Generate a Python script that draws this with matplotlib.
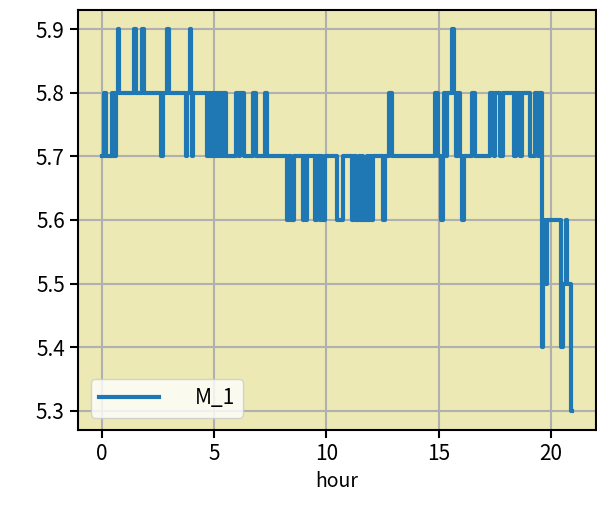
import matplotlib
matplotlib.use("Agg")
import matplotlib.pyplot as plt

plt.rcParams['font.family'] = ['Noto Sans CJK SC', 'DejaVu Sans']

# change points of the step series (hour, value)
hours = [0.00, 0.13, 0.20, 0.45, 0.50, 0.55, 0.62, 0.66, 0.72, 0.77,
         1.45, 1.52, 1.80, 1.87, 2.65, 2.72, 2.93, 3.00, 3.75, 3.82,
         3.92, 3.98, 4.02, 4.07, 4.70, 4.78, 4.83, 4.90, 4.95, 5.00,
         5.05, 5.10, 5.15, 5.20, 5.25, 5.32, 5.40, 5.45, 5.55, 6.00,
         6.10, 6.15, 6.35, 6.75, 6.88, 7.25, 7.38, 8.27, 8.33, 8.42,
         8.55, 8.95, 9.00, 9.08, 9.15, 9.50, 9.60, 9.70, 9.78, 9.82,
         9.95, 10.47, 10.72, 11.15, 11.22, 11.30, 11.45, 11.50, 11.60, 11.65,
         11.80, 11.85, 11.95, 12.00, 12.08, 12.50, 12.60, 12.80, 12.90, 14.82,
         14.97, 15.08, 15.18, 15.25, 15.32, 15.38, 15.60, 15.70, 15.78, 15.85,
         15.95, 16.05, 16.12, 16.50, 16.62, 17.28, 17.45, 17.50, 17.72, 17.88,
         18.35, 18.42, 18.62, 18.70, 19.05, 19.30, 19.40, 19.45, 19.58, 19.62,
         19.66, 19.70, 19.74, 19.82, 20.43, 20.52, 20.65, 20.72, 20.90, 20.95]
values = [5.7, 5.8, 5.7, 5.8, 5.7, 5.8, 5.7, 5.8, 5.9, 5.8,
          5.9, 5.8, 5.9, 5.8, 5.7, 5.8, 5.9, 5.8, 5.7, 5.8,
          5.9, 5.8, 5.7, 5.8, 5.7, 5.8, 5.7, 5.8, 5.7, 5.8,
          5.7, 5.8, 5.7, 5.8, 5.7, 5.8, 5.7, 5.8, 5.7, 5.8,
          5.7, 5.8, 5.7, 5.8, 5.7, 5.8, 5.7, 5.6, 5.7, 5.6,
          5.7, 5.6, 5.7, 5.6, 5.7, 5.6, 5.7, 5.6, 5.7, 5.6,
          5.7, 5.6, 5.7, 5.6, 5.7, 5.6, 5.7, 5.6, 5.7, 5.6,
          5.7, 5.6, 5.7, 5.6, 5.7, 5.6, 5.7, 5.8, 5.7, 5.8,
          5.7, 5.6, 5.7, 5.8, 5.7, 5.8, 5.9, 5.8, 5.7, 5.8,
          5.7, 5.6, 5.7, 5.8, 5.7, 5.8, 5.7, 5.8, 5.7, 5.8,
          5.7, 5.8, 5.7, 5.8, 5.7, 5.8, 5.7, 5.8, 5.4, 5.6,
          5.5, 5.6, 5.5, 5.6, 5.4, 5.5, 5.6, 5.5, 5.3, 5.3]
series_label = "M_1"
x_label = "hour"

fig = plt.figure(figsize=(5.97, 5.2), dpi=100)
ax = fig.add_axes([78/597, (520-430)/520, (596-78)/597, (430-10)/520])
ax.set_facecolor('#ece9b4')
ax.plot(hours, values, drawstyle='steps-post', color='#1f77b4', lw=3,
        label=series_label, zorder=3)
ax.grid(True, color='#b0b0b0', lw=1.5, zorder=0)
ax.set_axisbelow(True)
for s in ax.spines.values():
    s.set_linewidth(1.5)
ax.tick_params(labelsize=15, length=6, width=1.5)
ax.set_xlabel(x_label, fontsize=14)
ax.legend(loc='lower left', fontsize=15, handlelength=2.9, handletextpad=1.7,
          borderaxespad=0.6)
fig.savefig("out.png", dpi=100)
